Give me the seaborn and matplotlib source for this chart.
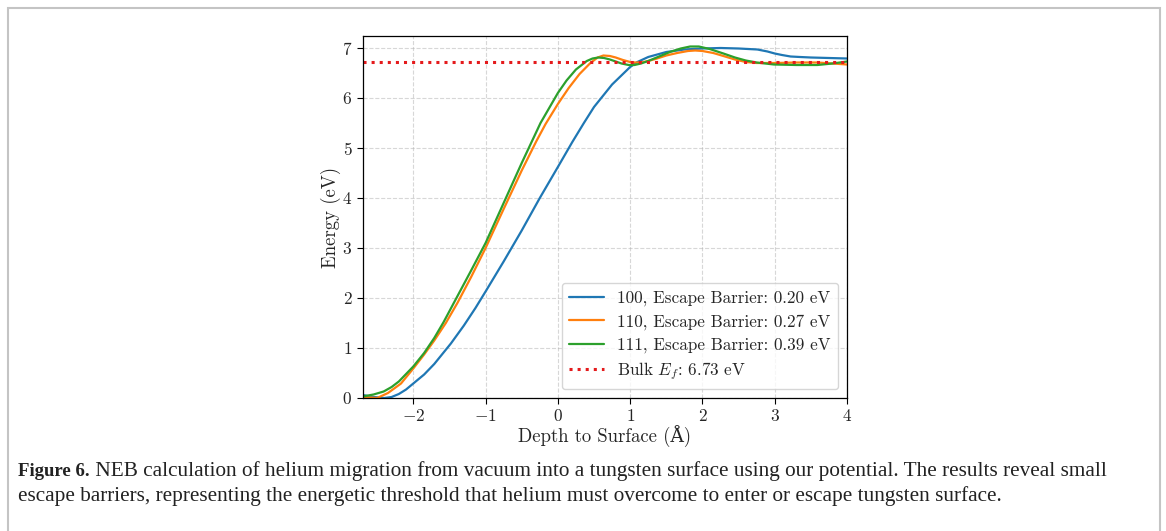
import numpy as np
import pandas as pd
import matplotlib
matplotlib.use("Agg")
import matplotlib.pyplot as plt
import seaborn as sns
from matplotlib.patches import Rectangle

# ---- data ----
x_100 = [-2.7, -2.55, -2.4, -2.3, -2.2, -2.1, -2.0, -1.85, -1.71, -1.48, -1.3, -1.14, -1.0, -0.75,
         -0.5, -0.25, 0.0, 0.2, 0.36, 0.5, 0.75, 1.0, 1.1, 1.25, 1.5, 1.75, 2.0, 2.25, 2.5, 2.76,
         2.9, 3.0, 3.1, 3.22, 3.35, 3.5, 3.75, 4.0]
y_100 = [0.06, 0.02, 0.0, 0.02, 0.08, 0.17, 0.29, 0.47, 0.68, 1.09, 1.45, 1.8, 2.13, 2.73,
         3.35, 4.0, 4.62, 5.12, 5.5, 5.82, 6.27, 6.62, 6.72, 6.82, 6.92, 6.97, 6.99, 7.0, 6.99, 6.97,
         6.93, 6.89, 6.86, 6.83, 6.82, 6.81, 6.8, 6.79]

x_110 = [-2.7, -2.6, -2.5, -2.35, -2.17, -2.0, -1.85, -1.71, -1.55, -1.39, -1.2, -1.0, -0.75,
         -0.5, -0.3, -0.17, 0.0, 0.15, 0.3, 0.45, 0.55, 0.63, 0.72, 0.8, 0.9, 1.0, 1.07, 1.15,
         1.25, 1.35, 1.5, 1.65, 1.8, 1.9, 2.0, 2.15, 2.29, 2.45, 2.6, 2.75, 3.0, 3.3, 3.59, 3.8, 4.0]
y_110 = [0.02, 0.01, 0.0, 0.1, 0.29, 0.59, 0.87, 1.15, 1.5, 1.9, 2.42, 3.0, 3.78,
         4.55, 5.13, 5.48, 5.88, 6.2, 6.48, 6.7, 6.81, 6.85, 6.84, 6.81, 6.76, 6.72, 6.71, 6.71,
         6.74, 6.78, 6.85, 6.9, 6.94, 6.95, 6.94, 6.9, 6.84, 6.77, 6.72, 6.7, 6.7, 6.71, 6.71, 6.69, 6.67]

x_111 = [-2.7, -2.55, -2.41, -2.3, -2.2, -2.0, -1.85, -1.71, -1.58, -1.44, -1.2, -1.0, -0.75,
         -0.5, -0.24, 0.0, 0.12, 0.25, 0.4, 0.48, 0.56, 0.64, 0.72, 0.8, 0.88, 0.98, 1.06, 1.15,
         1.25, 1.4, 1.55, 1.7, 1.83, 1.95, 2.1, 2.29, 2.45, 2.6, 2.75, 2.99, 3.3, 3.59, 3.8, 4.0]
y_111 = [0.03, 0.07, 0.13, 0.22, 0.33, 0.63, 0.9, 1.2, 1.52, 1.9, 2.55, 3.1, 3.9,
         4.7, 5.5, 6.1, 6.35, 6.57, 6.74, 6.79, 6.81, 6.8, 6.77, 6.73, 6.69, 6.66, 6.66, 6.69,
         6.74, 6.83, 6.92, 6.99, 7.03, 7.03, 6.98, 6.89, 6.81, 6.75, 6.71, 6.67, 6.66, 6.66, 6.69, 6.73]

labels = ["100, Escape Barrier: 0.20 eV",
          "110, Escape Barrier: 0.27 eV",
          "111, Escape Barrier: 0.39 eV"]
bulk_ef = 6.73
bulk_label = r"Bulk $E_f$: 6.73 eV"

x_ticks = [-2, -1, 0, 1, 2, 3, 4]
y_ticks = [0, 1, 2, 3, 4, 5, 6, 7]

caption_bold = "Figure 6."
caption_line1 = (" NEB calculation of helium migration from vacuum into a tungsten surface "
                 "using our potential. The results reveal small")
caption_line2 = ("escape barriers, representing the energetic threshold that helium must "
                 "overcome to enter or escape tungsten surface.")

# ---- style ----
sns.set_style("ticks")
plt.rcParams["font.family"] = ["cmr10", "DejaVu Serif"]
plt.rcParams["mathtext.fontset"] = "cm"
plt.rcParams["axes.formatter.use_mathtext"] = True
plt.rcParams["axes.unicode_minus"] = True

colors = ["#1f77b4", "#ff7f0e", "#2ca02c"]

fig = plt.figure(figsize=(11.66, 5.31), dpi=100)
ax = fig.add_axes([362.7 / 1166, 1 - 398 / 531, (847 - 362.7) / 1166, (398 - 36) / 531])

frames = []
for xs, ys, lab in zip([x_100, x_110, x_111], [y_100, y_110, y_111], labels):
    frames.append(pd.DataFrame({"depth": xs, "energy": ys, "series": lab}))
df = pd.concat(frames, ignore_index=True)

sns.lineplot(data=df, x="depth", y="energy", hue="series", palette=colors,
             linewidth=1.6, ax=ax, sort=False, estimator=None)
ax.axhline(bulk_ef, color="#e41a1c", linestyle=":", linewidth=2.2, label=bulk_label)

ax.set_xlim(-2.7, 4)
ax.set_ylim(0, 7.24)
ax.set_xticks(x_ticks)
ax.set_yticks(y_ticks)
ax.tick_params(labelsize=12.5, direction="out", length=4, width=0.8, color="black")
for s in ax.spines.values():
    s.set_color("black")
    s.set_linewidth(0.9)
ax.grid(True, linestyle="--", color="#b0b0b0", alpha=0.5, linewidth=0.8)

ax.set_xlabel("Depth to Surface (Å)", fontsize=13.5, labelpad=1)
ax.set_ylabel("Energy (eV)", fontsize=13.5, labelpad=0.5)

handles, labs = ax.get_legend_handles_labels()
leg = ax.legend(handles=handles, labels=labs, loc="lower right", fontsize=12.3,
                frameon=True, framealpha=0.8, edgecolor="#cccccc", fancybox=True,
                borderpad=0.45, labelspacing=0.45, handlelength=2.0)

# frame around figure
fig.patches.append(Rectangle((8 / 1166, -0.05), (1160 - 8) / 1166, 1.05 - 8 / 531,
                             transform=fig.transFigure, fill=False,
                             edgecolor="#c4c4c4", linewidth=1.5))

# caption
cap_font = ["Liberation Serif", "DejaVu Serif"]
y1 = 1 - 471 / 531
y2 = 1 - 496 / 531
tb = fig.text(18 / 1166, y1, caption_bold, fontsize=13.5, fontweight="bold",
              family=cap_font, va="center", ha="left", color="#222222")
fig.canvas.draw()
bb = tb.get_window_extent()
fig.text(bb.x1 / 1166, y1, caption_line1, fontsize=15.3, family=cap_font,
         va="center", ha="left", color="#222222")
fig.text(18 / 1166, y2, caption_line2, fontsize=15.3, family=cap_font,
         va="center", ha="left", color="#222222")

fig.savefig("out.png", dpi=100)
